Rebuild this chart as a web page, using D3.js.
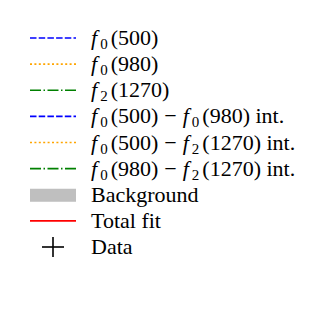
<!DOCTYPE html>
<html>
<head>
<meta charset="utf-8">
<script src="https://cdn.jsdelivr.net/npm/d3@7"></script>
<style>
  body { margin: 0; background: #fff; }
</style>
</head>
<body>
<div id="chart"></div>
<script>
// legend entries (no plotted data in the reference, only the legend)
var entryNames = ["f0(500)", "f0(980)", "f2(1270)", "f0(500)-f0(980) int.",
                  "f0(500)-f2(1270) int.", "f0(980)-f2(1270) int.",
                  "Background", "Total fit", "Data"];
// label pieces: [italic f, subscript, rest]
var entryParts = [
  [["f","0","(500)"]],
  [["f","0","(980)"]],
  [["f","2","(1270)"]],
  [["f","0","(500)"],["-"],["f","0","(980)"],[""," ","int."]],
  [["f","0","(500)"],["-"],["f","2","(1270)"],[""," ","int."]],
  [["f","0","(980)"],["-"],["f","2","(1270)"],[""," ","int."]],
  [["","","Background"]],
  [["","","Total fit"]],
  [["","","Data"]]
];
var entryKinds = ["line","line","line","line","line","line","patch","line","marker"];
var entryColors = ["#0000ff","#ffa500","#008000","#0000ff","#ffa500","#008000","#bfbfbf","#ff0000","#000000"];
var entryDash = ["6.5,2.2","2,2.4","11,2.5,1.5,2.5","6.5,2.2","2,2.4","11,2.5,1.5,2.5",null,null,null];

var W = 332, H = 311;
var fontFam = "Liberation Serif";
var svg = d3.select("#chart").append("svg").attr("width", W).attr("height", H);

var y = d3.scalePoint().domain(d3.range(entryNames.length)).range([38, 247]);
var x0 = 30, x1 = 76, tx = 91;

var g = svg.append("g");
var rows = g.selectAll("g.row").data(entryNames).enter().append("g").attr("class","row")
  .attr("transform", function(d,i){ return "translate(0,"+y(i)+")"; });

rows.each(function(d,i){
  var r = d3.select(this);
  var kind = entryKinds[i];
  if (kind == "line") {
    r.append("line").attr("x1",x0).attr("x2",x1).attr("y1",0).attr("y2",0)
      .attr("stroke",entryColors[i]).attr("stroke-width",1.6)
      .attr("stroke-dasharray",entryDash[i]);
  } else if (kind == "patch") {
    r.append("rect").attr("x",x0).attr("y",-6).attr("width",x1-x0).attr("height",13)
      .attr("fill",entryColors[i]);
  } else {
    r.append("line").attr("x1",42).attr("x2",64).attr("y1",0).attr("y2",0)
      .attr("stroke",entryColors[i]).attr("stroke-width",1.6);
    r.append("line").attr("x1",53).attr("x2",53).attr("y1",-10).attr("y2",10)
      .attr("stroke",entryColors[i]).attr("stroke-width",1.6);
  }
  var t = r.append("text").attr("x",tx).attr("y",7).attr("font-size",22)
    .attr("font-family",fontFam).attr("fill","#000");
  entryParts[i].forEach(function(p,k){
    if (p[0] == "-") {
      t.append("tspan").attr("dx",6).text("\u2212");
      return;
    }
    if (p[0] == "f") {
      var lead = k > 0 ? 6 : 0;
      t.append("tspan").attr("font-style","italic").attr("dx", lead).text("f");
      t.append("tspan").attr("font-size",15).attr("dx",3).attr("dy",4).text(p[1]);
      t.append("tspan").attr("dx",3).attr("dy",-4).text(p[2]);
    } else {
      t.append("tspan").text(p[1] + p[2]);
    }
  });
});
</script>
</body>
</html>
